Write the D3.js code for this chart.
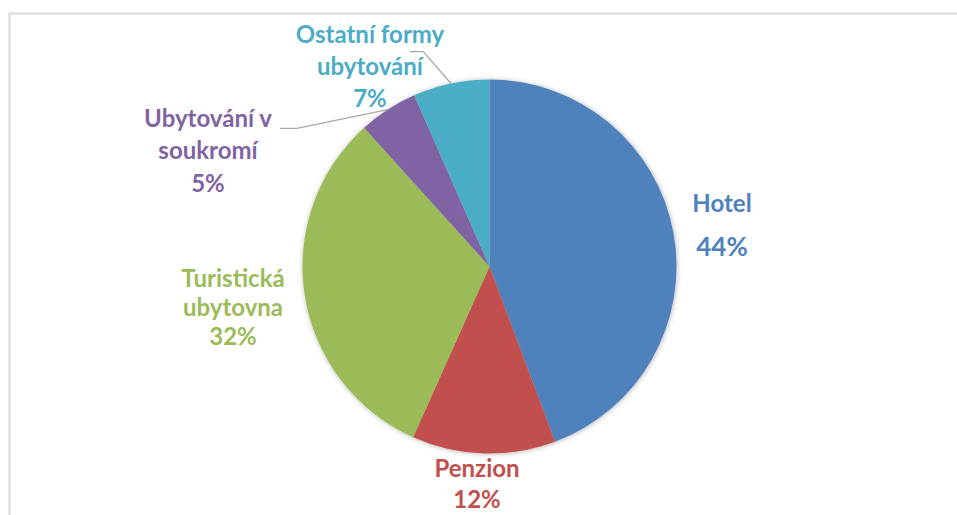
<!DOCTYPE html>
<html>
<head>
<meta charset="utf-8">
<script src="https://cdn.jsdelivr.net/npm/d3@7"></script>
<style>
  html, body { margin: 0; padding: 0; background: #fff; }
  svg { display: block; }
  text { font-family: Lato, "Open Sans", sans-serif; font-weight: bold; }
</style>
</head>
<body>
<div id="chart"></div>
<script>
// data
const categories = ["Hotel", "Penzion", "Turistická ubytovna", "Ubytování v soukromí", "Ostatní formy ubytování"];
const shares = [44.3, 12.4, 31.6, 5.1, 6.6];
const colors = ["#4f81bd", "#c0504d", "#9bbb59", "#8064a2", "#4bacc6"];
// how each label breaks into lines
const labelLines = [["Hotel"], ["Penzion"], ["Turistická", "ubytovna"], ["Ubytování v", "soukromí"], ["Ostatní formy", "ubytování"]];

const width = 957, height = 515;
const cx = 489.5, cy = 266.5, radius = 187;

// label placement relative to the pie centre: [dx, first baseline dy, line gap]
const labelPos = [[232.5, -54.8, 44.3], [-12.5, 210.2, 31.3], [-256.5, 20.2, 29.2], [-281.5, -139.8, 32.5], [-119.5, -223.2, 31.7]];
// leader lines start (label side) for the small slices, relative to centre
const leaderStart = { 3: [[-209.5, -138.2], [-192.8, -138.2]], 4: [[-79.5, -214.8], [-66.2, -214.8]] };

const svg = d3.select("#chart").append("svg")
    .attr("width", width)
    .attr("height", height);

// chart border (top + left visible)
svg.append("path")
    .attr("d", `M9.5,${height} V13.5 H${width}`)
    .attr("fill", "none")
    .attr("stroke", "#d9d9d9")
    .attr("stroke-width", 2);

const defs = svg.append("defs");
const filter = defs.append("filter").attr("id", "shadow")
    .attr("x", "-10%").attr("y", "-10%").attr("width", "120%").attr("height", "120%");
filter.append("feDropShadow")
    .attr("dx", 0.5).attr("dy", 0.5)
    .attr("stdDeviation", 2.5)
    .attr("flood-color", "#000")
    .attr("flood-opacity", 0.3);

const g = svg.append("g").attr("transform", `translate(${cx},${cy})`);

const pie = d3.pie().sort(null).value(d => d)(shares);
const arc = d3.arc().innerRadius(0).outerRadius(radius);
const edge = d3.arc().innerRadius(radius).outerRadius(radius);
const total = d3.sum(shares);

g.append("g")
    .attr("filter", "url(#shadow)")
    .selectAll("path")
    .data(pie)
    .join("path")
    .attr("d", arc)
    .attr("fill", (d, i) => colors[i]);

// leader lines
Object.keys(leaderStart).forEach(k => {
    const i = +k;
    const end = edge.centroid(pie[i]);
    const pts = leaderStart[i].concat([end]);
    g.append("path")
        .attr("d", d3.line()(pts))
        .attr("fill", "none")
        .attr("stroke", "#a6a6a6")
        .attr("stroke-width", 1.2);
});

// labels
const labels = g.append("g")
    .selectAll("text")
    .data(pie)
    .join("text")
    .attr("text-anchor", "middle")
    .attr("fill", (d, i) => colors[i])
    .attr("font-size", 24);

labels.each(function(d, i) {
    const t = d3.select(this);
    const [dx, dy, gap] = labelPos[i];
    const lines = labelLines[i].concat([Math.round(d.value / total * 100) + "%"]);
    lines.forEach((s, j) => {
        t.append("tspan")
            .attr("x", dx)
            .attr("y", dy + j * gap)
            .attr("font-size", i === 0 && j === 1 ? 26 : 24)
            .text(s);
    });
});
</script>
</body>
</html>
